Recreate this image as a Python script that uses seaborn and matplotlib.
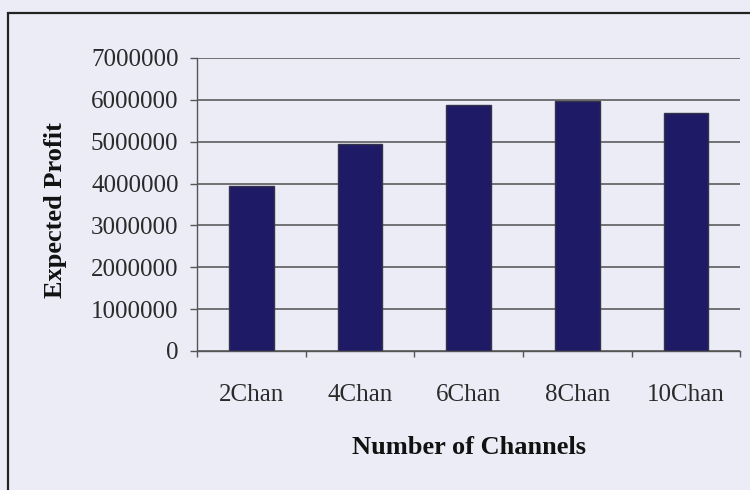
import matplotlib
matplotlib.use("Agg")
import matplotlib.pyplot as plt
import seaborn as sns
import pandas as pd
from matplotlib.patches import Rectangle

categories = ["2Chan", "4Chan", "6Chan", "8Chan", "10Chan"]
profit = [3950000, 4950000, 5880000, 5970000, 5680000]
y_ticks = [0, 1000000, 2000000, 3000000, 4000000, 5000000, 6000000, 7000000]

bg = "#ececf7"
bar_color = "#1f1a66"

sns.set_theme(style="white")
plt.rcParams["font.family"] = ["Liberation Serif", "DejaVu Serif"]

df = pd.DataFrame({"channels": categories, "profit": profit})

fig = plt.figure(figsize=(7.5, 4.9), dpi=100, facecolor=bg)
ax = fig.add_axes([0.263, 0.2837, 0.724, 0.598])
ax.set_facecolor(bg)

sns.barplot(data=df, x="channels", y="profit", color=bar_color,
            width=0.41, edgecolor="#33334a", linewidth=1.0, saturation=1, ax=ax)

ax.set_ylim(0, 7000000)
ax.set_xlim(-0.5, len(categories) - 0.5)
ax.set_yticks(y_ticks)
ax.set_yticklabels([str(v) for v in y_ticks])
ax.yaxis.grid(True, color="#505050", linewidth=1.1)
ax.set_axisbelow(True)

# ticks sit between the categories on the x axis
ax.set_xticks([i - 0.5 for i in range(len(categories) + 1)], minor=True)
ax.tick_params(axis="x", which="major", length=0, pad=24, labelsize=18, colors="#2a2a2a")
ax.tick_params(axis="x", which="minor", length=4.5, width=1, color="#555555", direction="out", bottom=True)
ax.tick_params(axis="y", length=5, width=1, color="#555555", direction="out", left=True, pad=8.5,
               labelsize=18, colors="#2a2a2a")

for side in ["top", "right"]:
    ax.spines[side].set_visible(False)
for side in ["left", "bottom"]:
    ax.spines[side].set_color("#555555")
    ax.spines[side].set_linewidth(1.0)

ax.set_xlabel("Number of Channels", fontsize=19, fontweight="bold", color="#111111")
ax.set_ylabel("Expected Profit", fontsize=19, fontweight="bold", color="#111111")
ax.xaxis.set_label_coords(0.5, -0.29)
ax.yaxis.set_label_coords(-0.24, 0.48)

# frame around the chart, running off the page at right and bottom
fig.patches.append(Rectangle((0.011, -0.1), 1.2, 0.1 + 0.973, transform=fig.transFigure,
                             fill=False, edgecolor="#222222", linewidth=1.6))

fig.savefig("out.png", dpi=100, facecolor=bg)
